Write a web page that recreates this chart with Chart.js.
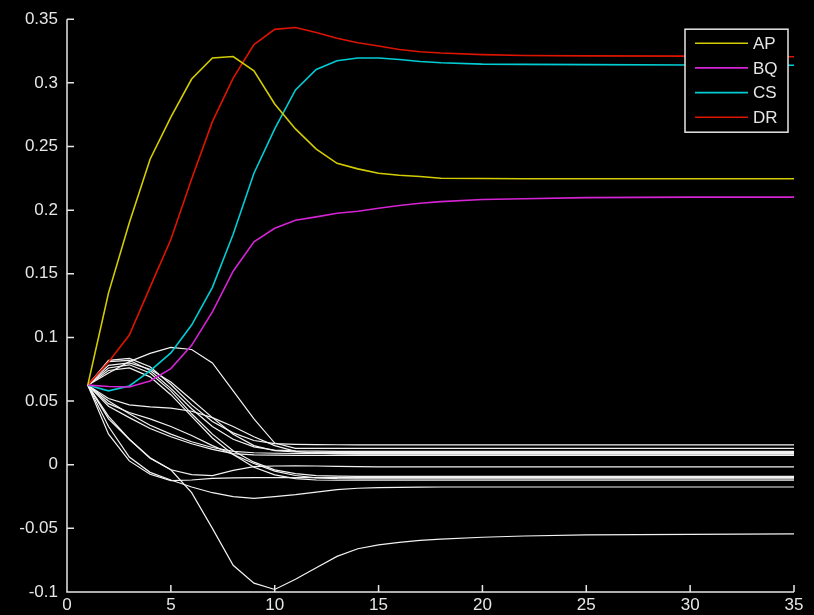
<!DOCTYPE html>
<html>
<head>
<meta charset="utf-8">
<script src="https://cdn.jsdelivr.net/npm/chart.js@4/dist/chart.umd.min.js"></script>
<style>
  html, body { margin: 0; padding: 0; background: #000; }
  #plot { display: block; }
</style>
</head>
<body>
<canvas id="plot" width="814" height="615"></canvas>
<script>
// x positions shared by every series
var xValues = [1, 2, 3, 4, 5, 6, 7, 8, 9, 10, 11, 12, 13, 14, 15, 16, 17, 18, 20, 22, 25, 30, 35];

// labelled series
var seriesLabels = ['AP', 'BQ', 'CS', 'DR'];
var apValues = [0.0625, 0.135, 0.190, 0.240, 0.273, 0.303, 0.3195, 0.3207, 0.3095, 0.2834, 0.2638, 0.248, 0.2368, 0.2324, 0.229, 0.2274, 0.2264, 0.2250, 0.2248, 0.2247, 0.2247, 0.2246, 0.2246];
var bqValues = [0.0625, 0.0615, 0.0611, 0.0658, 0.0755, 0.0938, 0.120, 0.152, 0.1751, 0.1858, 0.192, 0.1947, 0.1976, 0.1991, 0.2015, 0.2036, 0.2054, 0.2067, 0.2083, 0.209, 0.2098, 0.2102, 0.2102];
var csValues = [0.0625, 0.058, 0.0619, 0.0737, 0.0878, 0.1097, 0.1393, 0.181, 0.229, 0.2638, 0.2944, 0.3105, 0.3173, 0.3195, 0.3195, 0.3184, 0.3168, 0.3158, 0.3147, 0.3145, 0.3143, 0.3140, 0.3138];
var drValues = [0.0625, 0.0807, 0.1019, 0.1395, 0.1769, 0.2244, 0.2695, 0.3037, 0.330, 0.342, 0.3435, 0.3396, 0.3351, 0.3315, 0.3289, 0.3262, 0.3244, 0.3234, 0.3222, 0.3215, 0.3212, 0.3210, 0.3205];

// unlabelled white series
var w01 = [0.0625, 0.072, 0.081, 0.0875, 0.0922, 0.0905, 0.080, 0.058, 0.036, 0.017, 0.0128, 0.0128, 0.0128, 0.0128, 0.0128, 0.0128, 0.0128, 0.0128, 0.0128, 0.0128, 0.0128, 0.0128, 0.0128];
var w02 = [0.0625, 0.082, 0.0835, 0.077, 0.063, 0.047, 0.034, 0.025, 0.019, 0.0165, 0.0160, 0.0158, 0.0157, 0.0156, 0.0156, 0.0156, 0.0156, 0.0156, 0.0156, 0.0156, 0.0156, 0.0156, 0.0156];
var w03 = [0.0625, 0.081, 0.082, 0.074, 0.060, 0.044, 0.030, 0.020, 0.014, 0.0115, 0.0108, 0.0106, 0.0105, 0.0105, 0.0105, 0.0105, 0.0105, 0.0105, 0.0105, 0.0105, 0.0105, 0.0105, 0.0105];
var w04 = [0.0625, 0.078, 0.080, 0.075, 0.065, 0.051, 0.037, 0.024, 0.015, 0.011, 0.0100, 0.0097, 0.0095, 0.0095, 0.0095, 0.0095, 0.0095, 0.0095, 0.0095, 0.0095, 0.0095, 0.0095, 0.0095];
var w05 = [0.0625, 0.076, 0.0785, 0.072, 0.058, 0.040, 0.024, 0.011, 0.002, -0.004, -0.007, -0.0085, -0.009, -0.0092, -0.0092, -0.0092, -0.0092, -0.0092, -0.0092, -0.0092, -0.0092, -0.0092, -0.0092];
var w06 = [0.0625, 0.074, 0.076, 0.069, 0.055, 0.038, 0.021, 0.008, -0.002, -0.008, -0.011, -0.012, -0.0122, -0.0122, -0.0122, -0.0122, -0.0122, -0.0122, -0.0122, -0.0122, -0.0122, -0.0122, -0.0122];
var w07 = [0.0625, 0.052, 0.047, 0.0455, 0.0445, 0.042, 0.037, 0.030, 0.022, 0.015, 0.0105, 0.009, 0.0085, 0.0083, 0.0082, 0.0082, 0.0082, 0.0082, 0.0082, 0.0082, 0.0082, 0.0082, 0.0082];
var w08 = [0.0625, 0.046, 0.037, 0.0285, 0.022, 0.0165, 0.012, 0.0087, 0.0078, 0.0075, 0.0074, 0.0074, 0.0074, 0.0074, 0.0074, 0.0074, 0.0074, 0.0074, 0.0074, 0.0074, 0.0074, 0.0074, 0.0074];
var w09 = [0.0625, 0.050, 0.040, 0.031, 0.024, 0.018, 0.0135, 0.0105, 0.0094, 0.0090, 0.0088, 0.0088, 0.0088, 0.0088, 0.0088, 0.0088, 0.0088, 0.0088, 0.0088, 0.0088, 0.0088, 0.0088, 0.0088];
var w10 = [0.0625, 0.048, 0.041, 0.036, 0.030, 0.023, 0.015, 0.008, 0.001, -0.005, -0.0085, -0.0103, -0.011, -0.0112, -0.0112, -0.0112, -0.0112, -0.0112, -0.0112, -0.0112, -0.0112, -0.0112, -0.0112];
var w11 = [0.0625, 0.036, 0.020, 0.005, -0.004, -0.0078, -0.0085, -0.0045, -0.0015, -0.0010, -0.0008, -0.0010, -0.0013, -0.0015, -0.0017, -0.0017, -0.0017, -0.0017, -0.0017, -0.0017, -0.0017, -0.0017, -0.0017];
var w12 = [0.0625, 0.030, 0.006, -0.006, -0.012, -0.0175, -0.022, -0.025, -0.0265, -0.025, -0.0235, -0.0215, -0.0195, -0.0185, -0.018, -0.0178, -0.0176, -0.0175, -0.0175, -0.0175, -0.0175, -0.0175, -0.0175];
var w13 = [0.0625, 0.024, 0.003, -0.0075, -0.0125, -0.012, -0.0108, -0.0104, -0.0102, -0.0102, -0.0102, -0.0102, -0.0102, -0.0102, -0.0102, -0.0102, -0.0102, -0.0102, -0.0102, -0.0102, -0.0102, -0.0102, -0.0102];
var w14 = [0.0625, 0.038, 0.020, 0.0055, -0.004, -0.022, -0.050, -0.079, -0.093, -0.098, -0.090, -0.081, -0.072, -0.066, -0.063, -0.061, -0.0595, -0.0585, -0.057, -0.056, -0.0552, -0.0547, -0.0544];

// ticks
var xTickValues = [0, 5, 10, 15, 20, 25, 30, 35];
var yTickValues = [-0.1, -0.05, 0, 0.05, 0.1, 0.15, 0.2, 0.25, 0.3, 0.35];
var yTickLabels = ['-0.1', '-0.05', '0', '0.05', '0.1', '0.15', '0.2', '0.25', '0.3', '0.35'];

var textColor = '#e6e6e6';
var axisColor = '#e6e6e6';
var fontFace = '"Liberation Sans", Arial, sans-serif';

function toPoints(ys) {
    return xValues.map(function (x, i) { return { x: x, y: ys[i] }; });
}

var coloured = [
    { label: seriesLabels[0], data: apValues, color: '#d2cc00' },
    { label: seriesLabels[1], data: bqValues, color: '#d424d4' },
    { label: seriesLabels[2], data: csValues, color: '#00ccd4' },
    { label: seriesLabels[3], data: drValues, color: '#dc1400' }
];
var whites = [w01, w02, w03, w04, w05, w06, w07, w08, w09, w10, w11, w12, w13, w14];

var datasets = coloured.map(function (s) {
    return {
        label: s.label,
        data: toPoints(s.data),
        borderColor: s.color,
        borderWidth: 1.6,
        pointRadius: 0,
        tension: 0
    };
}).concat(whites.map(function (w) {
    return {
        label: '',
        data: toPoints(w),
        borderColor: '#f2f2f2',
        borderWidth: 1.2,
        pointRadius: 0,
        tension: 0
    };
}));

// black background, inward ticks, left/bottom axis lines and a boxed legend
var matlabLook = {
    id: 'matlabLook',
    beforeDraw: function (chart) {
        var ctx = chart.ctx;
        ctx.save();
        ctx.fillStyle = '#000';
        ctx.fillRect(0, 0, chart.width, chart.height);
        ctx.restore();
    },
    afterDatasetsDraw: function (chart) {
        var ctx = chart.ctx, a = chart.chartArea;
        var xs = chart.scales.x, ys = chart.scales.y;
        ctx.save();
        ctx.strokeStyle = axisColor;
        ctx.lineWidth = 1.5;
        ctx.beginPath();
        ctx.moveTo(a.left, a.top);
        ctx.lineTo(a.left, a.bottom);
        ctx.lineTo(a.right, a.bottom);
        xs.ticks.forEach(function (t) {
            var px = xs.getPixelForValue(t.value);
            ctx.moveTo(px, a.bottom);
            ctx.lineTo(px, a.bottom - 7);
        });
        ys.ticks.forEach(function (t) {
            var py = ys.getPixelForValue(t.value);
            ctx.moveTo(a.left, py);
            ctx.lineTo(a.left + 7, py);
        });
        ctx.stroke();

        // legend box
        var bw = 103, bh = 103;
        var bx = a.right - 6 - bw, by = a.top + 10;
        ctx.fillStyle = '#000';
        ctx.fillRect(bx, by, bw, bh);
        ctx.strokeStyle = axisColor;
        ctx.lineWidth = 1.5;
        ctx.strokeRect(bx, by, bw, bh);
        ctx.font = '17px ' + fontFace;
        ctx.textBaseline = 'middle';
        ctx.textAlign = 'left';
        coloured.forEach(function (s, i) {
            var ry = by + 14 + i * 24.7;
            ctx.strokeStyle = s.color;
            ctx.lineWidth = 1.6;
            ctx.beginPath();
            ctx.moveTo(bx + 10, ry);
            ctx.lineTo(bx + 63, ry);
            ctx.stroke();
            ctx.fillStyle = textColor;
            ctx.fillText(s.label, bx + 68, ry + 1);
        });
        ctx.restore();
    }
};

new Chart(document.getElementById('plot').getContext('2d'), {
    type: 'line',
    data: { datasets: datasets },
    options: {
        responsive: false,
        animation: false,
        layout: { padding: { top: 18, right: 20, left: 0, bottom: 0 } },
        plugins: { legend: { display: false }, tooltip: { enabled: false } },
        scales: {
            x: {
                type: 'linear',
                min: 0,
                max: 35,
                grid: { display: false, drawTicks: false },
                border: { display: false },
                afterBuildTicks: function (scale) {
                    scale.ticks = xTickValues.map(function (v) { return { value: v }; });
                },
                afterFit: function (scale) { scale.height = 23; },
                ticks: {
                    color: textColor,
                    padding: 3,
                    maxRotation: 0,
                    font: { family: fontFace, size: 17 },
                    callback: function (v) { return String(v); }
                }
            },
            y: {
                type: 'linear',
                min: -0.1,
                max: 0.35,
                grid: { display: false, drawTicks: false },
                border: { display: false },
                afterBuildTicks: function (scale) {
                    scale.ticks = yTickValues.map(function (v) { return { value: v }; });
                },
                afterFit: function (scale) { scale.width = 67; },
                ticks: {
                    color: textColor,
                    padding: 9,
                    font: { family: fontFace, size: 17 },
                    callback: function (v, i) { return yTickLabels[i]; }
                }
            }
        }
    },
    plugins: [matlabLook]
});
</script>
</body>
</html>
